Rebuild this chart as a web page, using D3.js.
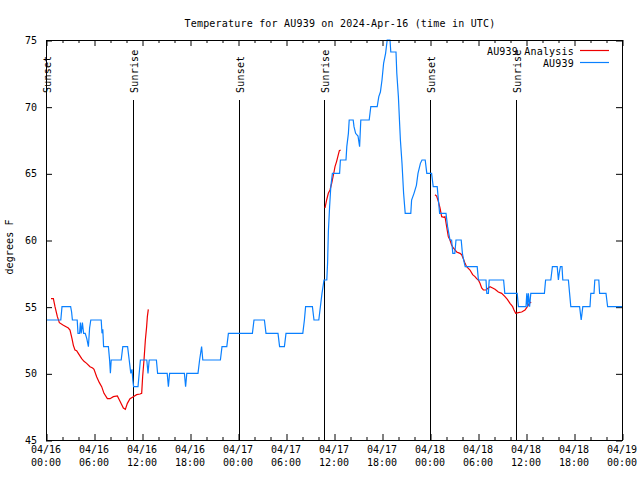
<!DOCTYPE html>
<html><head><meta charset="utf-8">
<script src="https://cdn.jsdelivr.net/npm/d3@7"></script>
<style>body{margin:0;background:#fff}svg{display:block}</style>
</head><body>
<svg id="c" width="640" height="480"></svg>
<script>
// ---- data (hours since 2024-04-16 00:00 UTC) ----
const obsHours = [0,1.85,2.0,3.08,3.2,3.3,3.9,4.0,4.2,4.3,4.4,4.55,4.7,4.9,5.1,5.3,5.45,5.6,6.9,7.0,7.1,7.2,7.8,7.95,8.05,8.15,9.4,9.6,10.2,10.4,10.6,10.75,10.85,10.95,11.5,11.65,11.8,12.6,12.75,12.9,13.8,13.95,15.15,15.3,15.45,17.3,17.45,17.6,19.0,19.2,19.45,19.6,21.8,22.0,22.6,22.8,25.8,26.0,27.3,27.5,29.0,29.2,29.8,30.0,32.1,32.3,32.45,33.3,33.5,34.1,34.3,34.5,34.75,35.1,35.2,35.3,35.45,35.6,35.7,35.8,36.7,36.8,37.5,37.6,37.8,37.9,38.4,38.5,38.7,39.0,39.2,39.35,40.4,40.6,41.4,41.6,41.8,42.0,42.2,42.45,42.65,43.0,43.1,43.75,43.85,44.05,44.2,44.3,44.5,44.7,44.9,45.6,45.7,46.0,46.3,46.5,46.8,47.0,47.4,47.5,47.6,48.2,48.3,48.4,48.9,49.05,49.2,50.0,50.2,50.5,50.7,50.85,51.1,51.25,51.9,52.05,52.2,52.4,53.9,54.05,55.0,55.1,55.3,55.4,57.2,57.35,58.9,59.05,60.0,60.1,60.2,60.3,60.45,60.6,62.3,62.45,63.1,63.3,63.9,64.05,64.15,64.3,64.5,64.6,65.3,65.45,65.6,66.7,66.8,66.9,67.0,67.1,68.0,68.1,68.5,68.6,69.1,69.2,70.0,70.1,70.2,72];
const obsTemps = [54,54,55,55,54.6,54,54,53,53,53.8,53,53.8,53,53,52.6,52,53.4,54,54,53,53.3,52,52,51,50,51,51,52,52,51,50,50.3,49.5,49,49,50,51,51,50,51,51,50,50,49,50,50,49,50,50,51,52,51,51,52,52,53,53,54,54,53,53,52,52,53,53,54,55,55,54,54,55,56,57,57,58.3,60.7,62.5,64,64.5,65,65,66,66,67,68,69,69,68.5,68,67.8,67,69,69,70,70,70.75,71.1,72,73.25,74,75,75,74.1,74.1,72.5,70.75,68.75,67.5,65.75,63.5,62,62,63,63.5,64.1,65,65.75,66,66,65.5,65,65,64.5,64,64,63,62,62,61,60,60,59,59,60,60,59,58.5,58,58,57,57,56,56,57,57,56,56,55,55,56,55,56,55,56,56,57,57,58,58,57,57.5,58,58,57,57,56,55,55,54.5,54,54.5,55,55,56,56,57,57,56,56,55.5,55,55];

// analysis series (null = gap)
const anaHours = [0.625,0.92,1.125,1.42,1.67,2.17,2.79,3.0,3.25,3.42,3.625,3.83,4.04,4.46,4.75,5.08,5.5,5.83,6.0,6.33,6.67,6.96,7.25,7.67,8.0,8.42,8.92,9.25,9.67,9.92,10.17,10.5,10.92,11.33,11.75,11.96,12.08,12.25,12.42,12.58,12.67,12.79,
  null,
  34.875,35.08,35.29,35.5,35.71,35.83,36.0,36.125,36.33,36.54,36.67,36.83,
  null,
  48.625,48.83,49.04,49.25,49.46,49.75,49.875,50.08,50.29,50.5,50.71,50.92,51.33,51.75,51.96,52.17,52.375,52.58,53.0,53.33,53.625,53.83,54.04,54.25,54.46,54.67,55.0,55.29,55.5,55.83,56.125,56.54,56.96,57.375,57.67,58.0,58.33,58.5,58.71,59.04,59.46,59.875,60.17,60.42,60.65];
const anaTemps = [55.6,55.6,55.0,54.25,53.8,53.6,53.4,53.25,52.6,52.1,51.75,51.7,51.5,51.1,50.9,50.75,50.5,50.4,50.3,49.75,49.3,49.0,48.5,48.1,48.1,48.25,48.3,47.9,47.4,47.3,47.75,48.1,48.25,48.4,48.45,48.5,49.75,51.0,52.5,53.5,54.25,54.8,
  null,
  62.4,63.0,63.5,63.75,64.25,64.6,65.1,65.5,65.9,66.4,66.7,66.75,
  null,
  63.4,63.3,62.9,62.4,61.75,61.7,61.75,61.0,60.25,60.0,59.6,59.4,59.1,59.0,58.9,58.6,58.25,58.0,57.75,57.4,57.25,57.1,57.0,56.75,56.4,56.25,56.25,56.4,56.5,56.4,56.3,56.1,56.0,55.75,55.55,55.25,55.0,54.75,54.5,54.55,54.6,54.75,55.0,55.25,55.35];

const eventHours = [0.05,10.9,24.15,34.8,48.05,58.8];
const eventLabels = ["Sunset","Sunrise","Sunset","Sunrise","Sunset","Sunrise"];

const xTickHours = [0,6,12,18,24,30,36,42,48,54,60,66,72];
const xTickDates = ["04/16","04/16","04/16","04/16","04/17","04/17","04/17","04/17","04/18","04/18","04/18","04/18","04/19"];
const xTickTimes = ["00:00","06:00","12:00","18:00","00:00","06:00","12:00","18:00","00:00","06:00","12:00","18:00","00:00"];
const yTicks = [45,50,55,60,65,70,75];

const seriesNames = ["AU939 Analysis","AU939"];
const seriesColors = ["#ee0000","#0a80ff"];
const titleText = "Temperature for AU939 on 2024-Apr-16 (time in UTC)";
const yLabel = "degrees F";

// ---- drawing ----
const FONT = "'DejaVu Sans Mono', monospace";
const svg = d3.select("#c");
svg.append("rect").attr("width",640).attr("height",480).attr("fill","#fff");

const L=46, R=622, T=40, B=440;
const x = d3.scaleLinear().domain([0,72]).range([L,R]);
const y = d3.scaleLinear().domain([45,75]).range([B,T]);

// event lines
const ev = svg.append("g");
eventHours.forEach((h,i)=>{
  const xx = Math.round(x(h))+0.5;
  ev.append("line").attr("x1",xx).attr("x2",xx).attr("y1",100).attr("y2",B)
    .attr("stroke","#000").attr("stroke-width",1);
  ev.append("text").attr("transform",`translate(${xx+4},93) rotate(-90)`)
    .attr("font-family",FONT).attr("font-size",10).attr("letter-spacing",0.2)
    .attr("fill","#000").text(eventLabels[i]);
});

// axes ticks
function styleAxis(g){ g.select(".domain").remove(); g.selectAll("line").attr("stroke","#000"); }
const minorHours = d3.range(0,73,2).filter(h=>h%6!==0);
svg.append("g").attr("transform",`translate(0.5,${B})`)
  .call(d3.axisBottom(x).tickValues(xTickHours).tickSize(-6).tickFormat("")).call(styleAxis);
svg.append("g").attr("transform",`translate(0.5,${B})`)
  .call(d3.axisBottom(x).tickValues(minorHours).tickSize(-3).tickFormat("")).call(styleAxis);
svg.append("g").attr("transform",`translate(0.5,${T})`)
  .call(d3.axisTop(x).tickValues(xTickHours).tickSize(-6).tickFormat("")).call(styleAxis);
svg.append("g").attr("transform",`translate(0.5,${T})`)
  .call(d3.axisTop(x).tickValues(minorHours).tickSize(-3).tickFormat("")).call(styleAxis);
const ly = svg.append("g").attr("transform",`translate(${L},0.5)`)
  .call(d3.axisLeft(y).tickValues(yTicks).tickSize(-6).tickPadding(9));
styleAxis(ly);
ly.selectAll("text").attr("font-family",FONT).attr("font-size",10).attr("fill","#000").attr("dy","0.3em");
svg.append("g").attr("transform",`translate(${R},0.5)`)
  .call(d3.axisRight(y).tickValues(yTicks).tickSize(-6).tickFormat("")).call(styleAxis);

// x tick labels
const xl = svg.append("g").attr("font-family",FONT).attr("font-size",10).attr("fill","#000").attr("text-anchor","middle");
xTickHours.forEach((h,i)=>{
  xl.append("text").attr("x",x(h)).attr("y",453).text(xTickDates[i]);
  xl.append("text").attr("x",x(h)).attr("y",466).text(xTickTimes[i]);
});

// series
const ana = anaHours.map((h,i)=>[h,anaTemps[i]]);
const obs = obsHours.map((h,i)=>[h,obsTemps[i]]);
const line = d3.line().defined(d=>d[0]!==null && d[1]!==null).x(d=>x(d[0])).y(d=>y(d[1]));
svg.append("path").datum(ana).attr("d",line).attr("fill","none")
  .attr("stroke",seriesColors[0]).attr("stroke-width",1.2);
svg.append("path").datum(obs).attr("d",line).attr("fill","none")
  .attr("stroke",seriesColors[1]).attr("stroke-width",1.2);

// frame
svg.append("rect").attr("x",L+0.5).attr("y",T+0.5).attr("width",R-L).attr("height",B-T)
  .attr("fill","none").attr("stroke","#000").attr("stroke-width",1);

// legend
const lg = svg.append("g").attr("font-family",FONT).attr("font-size",10).attr("fill","#000");
seriesNames.forEach((n,i)=>{
  const yy = 50 + i*12;
  lg.append("text").attr("x",574).attr("y",yy+4.5).attr("text-anchor","end").attr("letter-spacing",0.2).text(n);
  lg.append("line").attr("x1",580).attr("x2",609).attr("y1",yy+0.5).attr("y2",yy+0.5)
    .attr("stroke",seriesColors[i]).attr("stroke-width",1.2);
});

// title & y label
svg.append("text").attr("x",340).attr("y",27).attr("text-anchor","middle")
  .attr("font-family",FONT).attr("font-size",10).attr("letter-spacing",0.2).attr("fill","#000").text(titleText);
svg.append("text").attr("transform","translate(13,247) rotate(-90)").attr("text-anchor","middle")
  .attr("font-family",FONT).attr("font-size",10).attr("letter-spacing",0.1).attr("fill","#000").text(yLabel);
</script>
</body></html>
